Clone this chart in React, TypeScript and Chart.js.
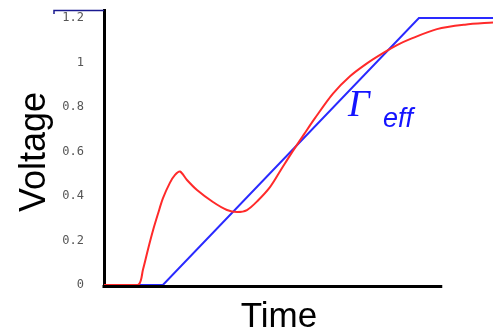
import React, { useEffect, useRef } from "react";
import { Chart, registerables } from "chart.js";

Chart.register(...registerables);

// Time axis (arbitrary units); axis line drawn up to timeAxisEnd
const timeMax = 115;
const timeAxisEnd = 100;

// Blue: effective linear ramp
const blueT = [0, 17.4, 93.1, 115];
const blueV = [0, 0, 1.2, 1.2];

// Red: actual voltage response
const redT = [0, 10.05, 11.53, 13.0, 14.48, 15.96, 17.44, 19.51, 21.0, 22.47, 24.53, 27.49, 32.22, 36.36, 39.31, 42.27, 45.52, 49.07, 52.32, 55.57, 59.12, 62.37, 67.69, 72.72, 77.74, 82.47, 86.61, 90.45, 98.43, 106.7, 115];
const redV = [0, 0, 0.07, 0.16, 0.245, 0.32, 0.39, 0.46, 0.495, 0.51, 0.472, 0.427, 0.373, 0.337, 0.328, 0.337, 0.38, 0.44, 0.518, 0.596, 0.677, 0.75, 0.86, 0.938, 0.996, 1.042, 1.078, 1.105, 1.15, 1.17, 1.18];

const yTickValues = [0, 0.2, 0.4, 0.6, 0.8, 1, 1.2];
const yTickLabels = ["0", "0.2", "0.4", "0.6", "0.8", "1", "1.2"];
const yMax = 1.236;

const yTitle = "Voltage";
const xTitle = "Time";

const decorPlugin = {
  id: "decor",
  afterDraw(chart: any) {
    const ctx = chart.ctx;
    const area = chart.chartArea;
    const xs = chart.scales.x;
    ctx.save();
    // x axis line
    ctx.strokeStyle = "#000";
    ctx.lineWidth = 3;
    ctx.beginPath();
    ctx.moveTo(area.left - 1.5, area.bottom + 1.5);
    ctx.lineTo(xs.getPixelForValue(timeAxisEnd), area.bottom + 1.5);
    ctx.stroke();
    // small navy mark at top-left
    ctx.strokeStyle = "#1a1a90";
    ctx.lineWidth = 1.5;
    ctx.beginPath();
    ctx.moveTo(area.left - 50, area.top + 4);
    ctx.lineTo(area.left - 50, area.top + 0.5);
    ctx.lineTo(area.left, area.top + 0.5);
    ctx.stroke();
    // titles
    ctx.fillStyle = "#000";
    ctx.font = '36px "Liberation Sans", Arial, sans-serif';
    ctx.textAlign = "center";
    ctx.textBaseline = "alphabetic";
    ctx.save();
    ctx.translate(45, 152);
    ctx.rotate(-Math.PI / 2);
    ctx.fillText(yTitle, 0, 0);
    ctx.restore();
    ctx.font = '35px "Liberation Sans", Arial, sans-serif';
    ctx.fillText(xTitle, 279, 327);
    // Gamma_eff annotation
    ctx.fillStyle = "#1414ff";
    ctx.textAlign = "left";
    ctx.font = 'italic 38px "Liberation Serif", "Times New Roman", serif';
    ctx.fillText("\u0393", 348, 116);
    ctx.font = 'italic 27px "Liberation Sans", Arial, sans-serif';
    ctx.fillText("eff", 383, 127);
    ctx.restore();
  },
};

export default function App() {
  const ref = useRef<HTMLCanvasElement>(null);
  useEffect(() => {
    document.body.style.margin = "0";
    const chart = new Chart(ref.current as HTMLCanvasElement, {
      type: "line",
      data: {
        datasets: [
          {
            data: redT.map((t, i) => ({ x: t, y: redV[i] })),
            borderColor: "#ff2a2a",
            borderWidth: 2,
            pointRadius: 0,
            tension: 0.3,
          },
          {
            data: blueT.map((t, i) => ({ x: t, y: blueV[i] })),
            borderColor: "#2a2aff",
            borderWidth: 2,
            pointRadius: 0,
            tension: 0,
          },
        ],
      },
      options: {
        animation: false,
        responsive: false,
        devicePixelRatio: 1,
        layout: { padding: { left: 0, right: 0, top: 10, bottom: 45 } },
        plugins: { legend: { display: false }, tooltip: { enabled: false } },
        scales: {
          x: {
            type: "linear",
            min: 0,
            max: timeMax,
            display: false,
          },
          y: {
            min: 0,
            max: yMax,
            afterBuildTicks: (s: any) => {
              s.ticks = yTickValues.map((v) => ({ value: v }));
            },
            afterFit: (s: any) => {
              s.width = 104;
              s.paddingTop = 0;
              s.paddingBottom = 0;
            },
            grid: { display: false },
            border: { display: true, color: "#000", width: 3 },
            ticks: {
              padding: 12,
              color: "#555",
              font: { family: '"DejaVu Sans Mono", monospace', size: 12 },
              callback: (v: any) => {
                const i = yTickValues.findIndex((t) => Math.abs(t - Number(v)) < 1e-6);
                return i >= 0 ? yTickLabels[i] : "";
              },
            },
          },
        },
      },
      plugins: [decorPlugin],
    } as any);
    return () => chart.destroy();
  }, []);
  return (
    <div style={{ position: "absolute", left: 0, top: 0, width: 493, height: 330 }}>
      <canvas ref={ref} width={493} height={330} style={{ display: "block" }} />
    </div>
  );
}
